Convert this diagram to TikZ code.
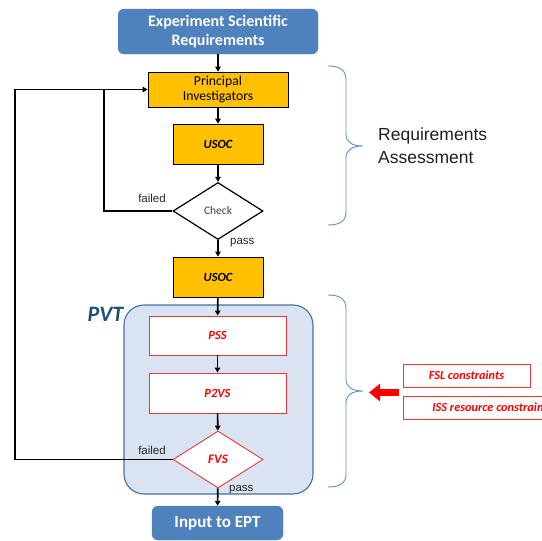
\documentclass[tikz,border=0pt]{standalone}
\usepackage{fontspec}
\setmainfont{Carlito}
\newfontfamily\arialfont{Liberation Sans}
\usetikzlibrary{shapes.geometric,arrows.meta}

\definecolor{boxblue}{HTML}{4F81BD}
\definecolor{amber}{HTML}{FFC000}
\definecolor{pvtfill}{HTML}{D9E3F1}
\definecolor{pvtedge}{HTML}{41719C}
\definecolor{pvttext}{HTML}{1F4E79}
\definecolor{bracecol}{HTML}{6A8FC4}
\definecolor{alertred}{HTML}{FF0000}
\definecolor{alertedge}{HTML}{E8393C}

\tikzset{
  bluebox/.style={draw=boxblue, fill=boxblue, rounded corners=6pt, text=white,
    font=\bfseries\fontsize{16}{19}\selectfont, align=center, inner sep=0pt},
  ambbox/.style={draw=black, line width=0.8pt, fill=amber, align=center, inner sep=0pt,
    minimum width=90pt, minimum height=40pt},
  redbox/.style={draw=alertedge, line width=0.9pt, fill=white, text=alertred, inner sep=0pt,
    font=\bfseries\itshape\fontsize{12.5}{14}\selectfont, minimum width=137pt, minimum height=39pt},
  decision/.style={diamond, aspect=1.6, inner sep=0pt, fill=white,
    minimum width=90pt, minimum height=57pt},
  flow/.style={line width=1.6pt, -{Triangle[length=5pt,width=5.5pt]}},
  plainline/.style={line width=1.6pt},
  sidelabel/.style={font=\arialfont\fontsize{11.5}{13}\selectfont, text=black!85, inner sep=0pt},
  bracepath/.style={draw=bracecol, line width=0.9pt},
  constraint/.style={draw=alertedge, line width=0.9pt, fill=white, text=alertred, inner sep=0pt,
    font=\bfseries\itshape\fontsize{12.3}{14}\selectfont}
}

\begin{document}
\begin{tikzpicture}[x=1pt,y=-1pt]
\useasboundingbox (0,0) rectangle (542,541);
\clip (0,0) rectangle (542,541);

% PVT container
\node[draw=pvtedge, line width=1.1pt, fill=pvtfill, rounded corners=20pt,
      minimum width=189pt, minimum height=189pt, inner sep=0pt] (pvt) at (218.5,399.5) {};
\node[text=pvttext, font=\bfseries\itshape\fontsize{22}{24}\selectfont, inner sep=0pt]
  (pvtlabel) at (105.5,314) {PVT};

% main column
\node[bluebox, minimum width=200pt, minimum height=45pt] (esr) at (218,31.5)
  {Experiment Scientific\\Requirements};
\node[ambbox, minimum width=140pt, minimum height=35pt,
      font=\fontsize{13.7}{15.5}\selectfont] (pi) at (218,89.5)
  {Principal\\Investigators};
\node[ambbox, font=\bfseries\itshape\fontsize{12.5}{14}\selectfont] (usoc1) at (218,144) {USOC};
\node[decision, draw=black, line width=1.2pt, text=black!75,
      font=\fontsize{11.5}{13}\selectfont] (check) at (218,211) {Check};
\node[ambbox, font=\bfseries\itshape\fontsize{12.5}{14}\selectfont] (usoc2) at (218,277) {USOC};

\node[redbox] (pss) at (217.5,335.5) {PSS};
\node[redbox, minimum height=40pt] (p2vs) at (217.5,393) {P2VS};
\node[decision, draw=alertedge, line width=0.9pt, text=alertred,
      font=\bfseries\itshape\fontsize{13}{14}\selectfont] (fvs) at (218,459.5) {FVS};

\node[bluebox, minimum width=131pt, minimum height=34pt,
      font=\bfseries\fontsize{17}{19}\selectfont] (ept) at (217.5,523) {Input to EPT};

% forward flow
\draw[flow] (esr) -- (pi);
\draw[flow] (pi) -- (usoc1);
\draw[flow] (usoc1) -- (check);
\draw[flow] (check) -- (usoc2);
\draw[flow] (usoc2) -- (pss);
\draw[flow] (pss) -- (p2vs);
\draw[flow] (p2vs) -- (fvs);
\draw[flow] (fvs) -- (ept);

% feedback loops
\coordinate (outerleft) at (15,0);
\coordinate (innertop) at (104,89.5);
\draw[flow] (fvs.west) -- (fvs.west -| outerleft) |- (pi.west);
\draw[plainline] (check.west) -| (innertop);

% flow labels
\node[sidelabel, anchor=south] (fail1) at (152,203) {failed};
\node[sidelabel, anchor=west] (pass1) at (230,243) {pass};
\node[sidelabel, anchor=south] (fail2) at (152,455) {failed};
\node[sidelabel, anchor=west] (pass2) at (229,490) {pass};

% braces
\draw[bracepath] (328,66) .. controls (340,66) and (346,70) .. (346,80)
  -- (346,134) .. controls (346,142) and (352,146) .. (363,146)
  .. controls (352,146) and (346,150) .. (346,158)
  -- (346,212) .. controls (346,221) and (340,225) .. (328,225);
\draw[bracepath] (328,295) .. controls (340,295) and (346,299) .. (346,309)
  -- (346,379) .. controls (346,387) and (352,391) .. (363,391)
  .. controls (352,391) and (346,395) .. (346,403)
  -- (346,474) .. controls (346,483) and (340,487) .. (328,487);
\coordinate (bracetip) at (369,392.5);

\node[font=\arialfont\fontsize{17.5}{23}\selectfont, text=black!88, align=left,
      anchor=west, inner sep=0pt] (reqassess) at (378,145.5)
  {Requirements\\Assessment};

% constraints feeding the PVT phase
\node[constraint, minimum width=127pt, minimum height=23pt] (fsl) at (466.5,375.5) {FSL constraints};
\node[constraint, minimum width=150pt, minimum height=23pt, anchor=west] (iss) at (403,407.5) {};
\node[constraint, draw=none, fill=none, anchor=west] (isstext) at (432,407.5) {ISS resource constraints};
\coordinate (redstart) at (399,392.5);
\draw[alertred, line width=7pt, -{Triangle[length=11pt,width=17pt]}] (redstart) -- (bracetip);
\end{tikzpicture}
\end{document}
